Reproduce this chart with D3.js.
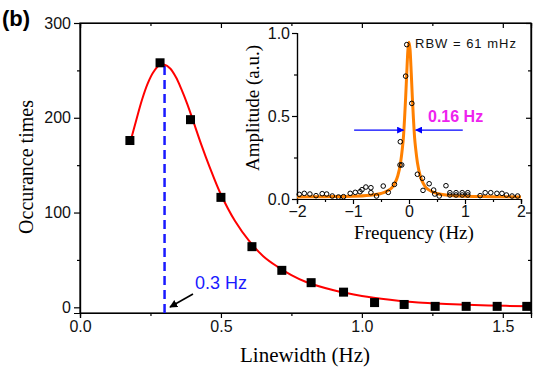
<!DOCTYPE html>
<html>
<head>
<meta charset="utf-8">
<script src="https://d3js.org/d3.v7.min.js"></script>
<style>
  body { margin: 0; background: #fff; }
  svg { display: block; }
  .tick text { font-family: "Liberation Sans", Arial, sans-serif; fill: #111; }
  .domain, .tick line { stroke: #000; stroke-width: 1.2; }
</style>
</head>
<body>
<svg id="chart" width="542" height="375"></svg>
<script>
// main histogram: linewidth (Hz) vs occurrence count
const linewidth = [0.177, 0.284, 0.392, 0.5, 0.61, 0.716, 0.82, 0.935, 1.045, 1.15, 1.26, 1.37, 1.48, 1.585];
const occurrence = [176, 258, 198, 116, 64, 39, 26, 16, 5, 3, 1, 1, 1, 1];

// red fit curve
const fitX = [0.18, 0.2, 0.22, 0.24, 0.26, 0.28, 0.3, 0.32, 0.34, 0.36, 0.38, 0.4, 0.43, 0.46, 0.5, 0.55, 0.6, 0.65, 0.7, 0.75, 0.8, 0.9, 1.0, 1.1, 1.2, 1.3, 1.45, 1.6];
const fitY = [176, 198, 219, 236, 248, 255, 256, 252, 243, 230, 215, 198, 172, 148, 119, 91, 70, 54, 43, 34, 27, 18, 12, 8, 5, 3.5, 2, 1];

// inset spectrum: open circles
const specF = [-1.96, -1.87, -1.77, -1.66, -1.55, -1.47, -1.37, -1.26, -1.17, -1.05, -0.96, -0.875, -0.84, -0.77, -0.68, -0.68, -0.58, -0.46, -0.37, -0.26, -0.16, -0.13, -0.155, -0.06, -0.04, 0.05,
  0.15, 0.24, 0.36, 0.25, 0.44, 0.46, 0.54, 0.66, 0.73, 0.73, 0.84, 0.84, 0.95, 0.95, 1.05, 1.05, 1.27, 1.36, 1.46, 1.57, 1.66, 1.74, 1.84, 1.94];
const specA = [0.028, 0.034, 0.03, 0.02, 0.032, 0.03, 0.018, 0.012, 0.014, 0.034, 0.04, 0.044, 0.056, 0.072, 0.068, 0.038, 0.018, 0.078, 0.04, 0.088, 0.205, 0.205, 0.345, 0.74, 0.93, 0.576,
  0.149, 0.125, 0.092, 0.052, 0.054, 0.03, 0.018, 0.08, 0.038, 0.024, 0.038, 0.024, 0.038, 0.024, 0.038, 0.024, 0.02, 0.038, 0.038, 0.034, 0.034, 0.024, 0.018, 0.018];

// inset orange fit
const lorF = [-2, -1.5, -1, -0.7, -0.5, -0.4, -0.3, -0.25, -0.2, -0.15, -0.12, -0.1, -0.08, -0.06, -0.04, -0.02, 0, 0.02, 0.04, 0.06, 0.08, 0.1, 0.12, 0.15, 0.2, 0.25, 0.3, 0.4, 0.5, 0.7, 1, 1.5, 2];
const lorA = [0.012, 0.014, 0.016, 0.022, 0.033, 0.046, 0.07, 0.097, 0.14, 0.22, 0.3, 0.37, 0.48, 0.61, 0.76, 0.895, 0.945, 0.895, 0.76, 0.61, 0.48, 0.37, 0.3, 0.22, 0.14, 0.097, 0.07, 0.046, 0.033, 0.022, 0.016, 0.014, 0.012];

const xTicks = [0, 0.5, 1.0, 1.5];
const yTicks = [0, 100, 200, 300];
const inXTicks = [-2, -1, 0, 1, 2];
const inYTicks = [0, 0.5, 1.0];

const svg = d3.select("#chart");
const x = d3.scaleLinear().domain([0, 1.6]).range([80, 531]);
const y = d3.scaleLinear().domain([-6, 300]).range([313, 23]);

// ---- main axes ----
function minorAxis(axis, scale, vals, size) {
  return axis(scale).tickValues(vals).tickSize(size).tickFormat("");
}
const xMinor = [0.25, 0.75, 1.25];
const yMinor = [50, 150, 250];

svg.append("g").attr("transform", "translate(0,313)")
  .call(minorAxis(d3.axisBottom, x, xMinor, 3));
svg.append("g").attr("transform", "translate(0,313)")
  .call(d3.axisBottom(x).tickValues(xTicks).tickSize(5).tickPadding(3).tickFormat(d3.format(".1f")))
  .selectAll("text").style("font-size", "16px");
svg.append("g").attr("transform", "translate(0,23)")
  .call(minorAxis(d3.axisBottom, x, xMinor, 3));
svg.append("g").attr("transform", "translate(0,23)")
  .call(minorAxis(d3.axisBottom, x, xTicks, 5));

svg.append("g").attr("transform", "translate(80,0)")
  .call(minorAxis(d3.axisLeft, y, yMinor, 3));
svg.append("g").attr("transform", "translate(80,0)")
  .call(d3.axisLeft(y).tickValues(yTicks).tickSize(6).tickPadding(3))
  .selectAll("text").style("font-size", "16px");
svg.append("g").attr("transform", "translate(531,0)")
  .call(minorAxis(d3.axisLeft, y, yMinor, 3));
svg.append("g").attr("transform", "translate(531,0)")
  .call(minorAxis(d3.axisLeft, y, yTicks, 5));
svg.selectAll(".domain").attr("fill", "none");
// outer ticks not needed
svg.selectAll(".domain").attr("d", function() { return d3.select(this).attr("d"); });

// frame
svg.append("rect").attr("x", 80).attr("y", 23).attr("width", 451).attr("height", 290)
  .attr("fill", "none").attr("stroke", "#000").attr("stroke-width", 1.2);

// blue dashed marker at 0.3 Hz
svg.append("line")
  .attr("x1", x(0.3)).attr("x2", x(0.3)).attr("y1", y(-6)).attr("y2", y(256))
  .attr("stroke", "#1a1aff").attr("stroke-width", 2.5).attr("stroke-dasharray", "9,5");

// red fit
const fitLine = d3.line().x((d, i) => x(fitX[i])).y(d => y(d)).curve(d3.curveCatmullRom);
svg.append("path").attr("d", fitLine(fitY))
  .attr("fill", "none").attr("stroke", "#ff0000").attr("stroke-width", 2);

// squares
svg.selectAll("rect.pt").data(occurrence).enter().append("rect").attr("class", "pt")
  .attr("x", (d, i) => x(linewidth[i]) - 4.5).attr("y", d => y(d) - 4.5)
  .attr("width", 9).attr("height", 9).attr("fill", "#000");

// annotation
svg.append("text").attr("x", 195).attr("y", 289).text("0.3 Hz")
  .style("font-family", "Liberation Sans, Arial, sans-serif").style("font-size", "18px").style("fill", "#1a1aff");
const defs = svg.append("defs");
defs.append("marker").attr("id", "blackHead").attr("viewBox", "0 0 10 10").attr("refX", 9).attr("refY", 5)
  .attr("markerWidth", 5).attr("markerHeight", 5).attr("orient", "auto")
  .append("path").attr("d", "M0,0L10,5L0,10z").attr("fill", "#000");
svg.append("line").attr("x1", 193).attr("y1", 294).attr("x2", 170).attr("y2", 307)
  .attr("stroke", "#000").attr("stroke-width", 1.6).attr("marker-end", "url(#blackHead)");

// labels
svg.append("text").attr("x", 2).attr("y", 26).text("(b)")
  .style("font-family", "Liberation Sans, Arial, sans-serif").style("font-weight", "bold").style("font-size", "22px");
svg.append("text").attr("transform", "translate(33,167) rotate(-90)").attr("text-anchor", "middle")
  .text("Occurance times").style("font-family", "Liberation Serif, Times New Roman, serif").style("font-size", "20px");
svg.append("text").attr("x", 305).attr("y", 362).attr("text-anchor", "middle")
  .text("Linewidth (Hz)").style("font-family", "Liberation Serif, Times New Roman, serif").style("font-size", "21px");

// ---- inset ----
const xi = d3.scaleLinear().domain([-2, 2]).range([297, 521]);
const yi = d3.scaleLinear().domain([0, 1]).range([199, 33]);
const inset = svg.append("g");

inset.append("g").attr("transform", "translate(0,199)")
  .call(minorAxis(d3.axisBottom, xi, [-1.5, -0.5, 0.5, 1.5], 3));
inset.append("g").attr("transform", "translate(0,199)")
  .call(d3.axisBottom(xi).tickValues(inXTicks).tickSize(5).tickPadding(2).tickFormat(d3.format("d")))
  .selectAll("text").style("font-size", "16px");
inset.append("g").attr("transform", "translate(297,0)")
  .call(minorAxis(d3.axisLeft, yi, [0.25, 0.75], 3));
inset.append("g").attr("transform", "translate(297,0)")
  .call(d3.axisLeft(yi).tickValues(inYTicks).tickSize(5).tickPadding(2).tickFormat(d3.format(".1f")))
  .selectAll("text").style("font-size", "16px");
inset.selectAll(".domain").attr("fill", "none");

const lorLine = d3.line().x((d, i) => xi(lorF[i])).y(d => yi(d)).curve(d3.curveMonotoneX);
inset.append("path").attr("d", lorLine(lorA))
  .attr("fill", "none").attr("stroke", "#ff8000").attr("stroke-width", 3);

inset.selectAll("circle").data(specA).enter().append("circle")
  .attr("cx", (d, i) => xi(specF[i])).attr("cy", d => yi(d)).attr("r", 2.3)
  .attr("fill", "none").attr("stroke", "#000").attr("stroke-width", 1);

// FWHM arrows
defs.append("marker").attr("id", "blueHead").attr("viewBox", "0 0 10 10").attr("refX", 9).attr("refY", 5)
  .attr("markerWidth", 5).attr("markerHeight", 5).attr("orient", "auto")
  .append("path").attr("d", "M0,0L10,5L0,10z").attr("fill", "#0000ff");
inset.append("line").attr("x1", xi(-0.98)).attr("x2", xi(-0.1)).attr("y1", yi(0.415)).attr("y2", yi(0.415))
  .attr("stroke", "#0000ff").attr("stroke-width", 1.4).attr("marker-end", "url(#blueHead)");
inset.append("line").attr("x1", xi(0.96)).attr("x2", xi(0.12)).attr("y1", yi(0.415)).attr("y2", yi(0.415))
  .attr("stroke", "#0000ff").attr("stroke-width", 1.4).attr("marker-end", "url(#blueHead)");

inset.append("text").attr("x", 428).attr("y", 122).text("0.16 Hz")
  .style("font-family", "Liberation Sans, Arial, sans-serif").style("font-weight", "bold")
  .style("font-size", "16px").style("fill", "#ee22ee");
inset.append("text").attr("x", 415).attr("y", 48).text("RBW = 61 mHz")
  .style("font-family", "Liberation Sans, Arial, sans-serif").style("font-size", "13px")
  .style("letter-spacing", "1px").style("fill", "#111");

inset.append("text").attr("transform", "translate(259,108) rotate(-90)").attr("text-anchor", "middle")
  .text("Amplitude (a.u.)").style("font-family", "Liberation Serif, Times New Roman, serif").style("font-size", "19px");
inset.append("text").attr("x", 414).attr("y", 239).attr("text-anchor", "middle")
  .text("Frequency (Hz)").style("font-family", "Liberation Serif, Times New Roman, serif").style("font-size", "19px");
</script>
</body>
</html>
